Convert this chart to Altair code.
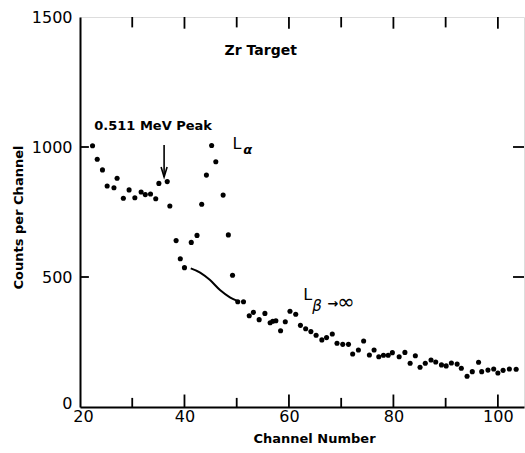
import altair as alt
import pandas as pd

# ---- data ----
channel = [22.4, 23.3, 24.3, 25.2, 26.5, 27.1, 28.3, 29.4, 30.5, 31.7, 32.5, 33.5, 34.5, 35.1, 36.7, 37.2,
           38.4, 39.2, 40.0, 41.3, 42.4, 43.3, 44.2, 45.2, 46.0, 47.4, 48.4, 49.2, 50.2, 51.3,
           52.4, 53.2, 54.3, 55.4, 56.4, 56.9, 57.5, 58.4, 59.3, 60.2,
           61.3, 62.2, 63.2, 64.2, 65.2, 66.3, 67.2, 68.3, 69.2, 70.3,
           71.4, 72.2, 73.3, 74.3, 75.4, 76.3, 77.2, 78.1, 79.0, 79.8,
           81.1, 82.2, 83.2, 84.2, 85.1, 86.1, 87.2, 88.1, 89.2, 90.1,
           91.1, 92.2, 93.0, 94.1, 95.1, 96.3, 96.9, 98.1, 99.2, 100.0,
           101.0, 102.2, 103.5]
counts = [1005, 953, 912, 850, 843, 880, 803, 835, 805, 827, 817, 819, 801, 860, 867, 773,
          640, 570, 536, 633, 660, 780, 892, 1006, 943, 815, 662, 507, 405, 405,
          351, 364, 336, 360, 324, 330, 332, 293, 328, 368,
          357, 314, 301, 290, 276, 258, 267, 281, 245, 241,
          241, 204, 219, 254, 200, 219, 193, 199, 199, 209,
          193, 210, 168, 197, 153, 168, 181, 173, 162, 158,
          169, 165, 149, 118, 136, 172, 136, 142, 146, 131,
          141, 146, 145]

curve_channel = [41.2, 43.0, 44.9, 46.8, 48.7, 50.0]
curve_counts = [533, 517, 488, 450, 422, 409]

x_label_values = [20, 40, 60, 80, 100]
x_minor_values = [30, 50, 70, 90]
y_label_values = [0, 500, 1000, 1500]
y_inner_values = [500, 1000]

arrow_channel = [36.1]
arrow_top = [1008]
arrow_tip = [885]

X_DOMAIN = [20, 105]
Y_DOMAIN = [0, 1500]

FONT = "DejaVu Sans"

xs = alt.Scale(domain=X_DOMAIN, nice=False, zero=False)
ys = alt.Scale(domain=Y_DOMAIN, nice=False, zero=False)

pts = pd.DataFrame({"channel": channel, "counts": counts})
curve = pd.DataFrame({"channel": curve_channel, "counts": curve_counts})

x_axis = alt.Axis(values=x_label_values, format="d", tickSize=0, grid=False, domain=True, domainWidth=2,
                  domainColor="black", labelFont=FONT, labelFontSize=16, labelColor="black",
                  labelPadding=1,
                  labelOffset={"condition": {"test": "datum.value == 20", "value": 3}, "value": 0},
                  title="Channel Number", titleFont=FONT, titleFontSize=13,
                  titleFontWeight="bold", titleColor="black", titleX=234, titleY=31,
                  titleBaseline="middle", titleAlign="center", labelFlush=False)
y_axis = alt.Axis(values=y_label_values, format="d", tickSize=0, grid=False, domain=True, domainWidth=2,
                  domainColor="black", labelFont=FONT, labelFontSize=16, labelColor="black",
                  labelPadding=8,
                  labelOffset={"condition": {"test": "datum.value == 0", "value": -4}, "value": 0},
                  title="Counts per Channel", titleFont=FONT, titleFontSize=13,
                  titleFontWeight="bold", titleColor="black", titleX=-62, titleY=200,
                  titleBaseline="middle", titleAlign="center", titleAngle=270, labelFlush=False)

points = alt.Chart(pts).mark_circle(size=26, color="black", opacity=1).encode(
    x=alt.X("channel:Q", scale=xs, axis=x_axis),
    y=alt.Y("counts:Q", scale=ys, axis=y_axis),
)

line = alt.Chart(curve).mark_line(color="black", strokeWidth=2, interpolate="monotone").encode(
    x=alt.X("channel:Q", scale=xs), y=alt.Y("counts:Q", scale=ys)
)

# ---- inward ticks (in data units, through the scales) ----
rows = []
for v in x_label_values[1:]:
    rows.append({"x": v, "x2": v, "y": 0, "y2": 48})
    rows.append({"x": v, "x2": v, "y": 1500, "y2": 1455})
for v in x_minor_values:
    rows.append({"x": v, "x2": v, "y": 0, "y2": 35})
    rows.append({"x": v, "x2": v, "y": 1500, "y2": 1460})
for v in y_inner_values:
    rows.append({"x": 20, "x2": 21.7, "y": v, "y2": v})
    rows.append({"x": 105, "x2": 102.9, "y": v, "y2": v})
ticks = alt.Chart(pd.DataFrame(rows)).mark_rule(color="black", strokeWidth=1.8).encode(
    x=alt.X("x:Q", scale=xs), x2="x2:Q", y=alt.Y("y:Q", scale=ys), y2="y2:Q"
)

# ---- arrow ----
arrow_df = pd.DataFrame({"x": arrow_channel, "y": arrow_top, "y2": arrow_tip})
shaft = alt.Chart(arrow_df).mark_rule(color="black", strokeWidth=1.6).encode(
    x=alt.X("x:Q", scale=xs), y=alt.Y("y:Q", scale=ys), y2="y2:Q"
)
head = alt.Chart(arrow_df).mark_point(
    shape="M -0.6 -2 L 0 0 L 0.6 -2", size=100, filled=False, color="black", strokeWidth=1.6, opacity=1
).encode(x=alt.X("x:Q", scale=xs), y=alt.Y("y2:Q", scale=ys))

# ---- annotations ----
def label(txt, x, y, size, weight="normal", style="normal", align="center"):
    d = pd.DataFrame({"t": [txt], "x": [x], "y": [y]})
    return alt.Chart(d).mark_text(font=FONT, fontSize=size, fontWeight=weight, fontStyle=style,
                                  color="black", align=align, baseline="middle").encode(
        x=alt.X("x:Q", scale=xs), y=alt.Y("y:Q", scale=ys), text="t:N")

ann = [
    label("Zr Target", 54.6, 1369, 14, "bold"),
    label("0.511 MeV Peak", 34.0, 1081, 13, "bold"),
    label("L", 50.05, 1012, 16),
    label("α", 52.1, 990, 13, "bold", "italic"),
    label("L", 63.6, 432, 16),
    label("β", 65.4, 390, 15, "normal", "italic"),
    label("→", 68.4, 397, 13, "bold"),
    label("∞", 70.9, 399, 21),
]

chart = alt.layer(ticks, points, line, shaft, head, *ann).properties(
    width=444, height=390,
    autosize=alt.AutoSizeParams(type="none"),
    padding={"left": 80, "top": 17, "right": 1, "bottom": 46},
).configure_view(stroke="black", strokeWidth=1.3).configure(background="white")

chart.save("out.html", embed_options={"renderer": "svg", "actions": False})
